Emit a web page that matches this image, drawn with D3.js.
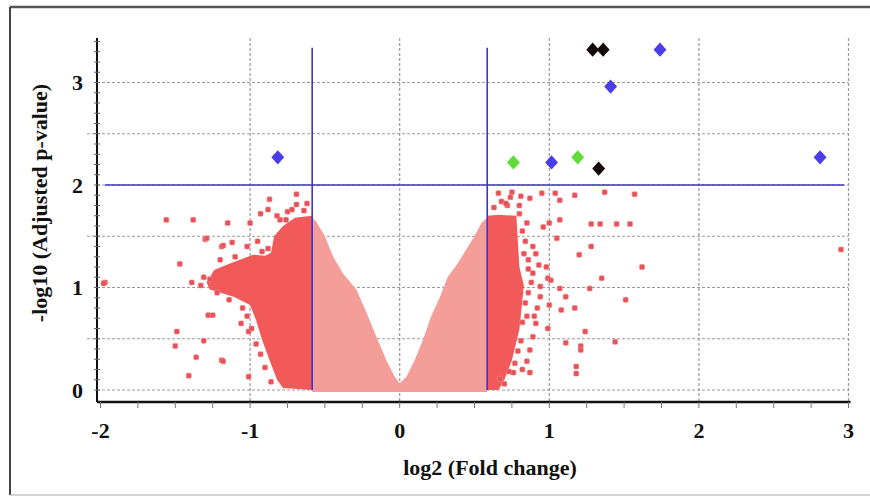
<!DOCTYPE html>
<html>
<head>
<meta charset="utf-8">
<script src="https://cdn.jsdelivr.net/npm/d3@7"></script>
<style>
  body { margin: 0; background: #fff; }
  text { font-family: "Liberation Serif", "Times New Roman", serif; font-weight: bold; fill: #111; }
</style>
</head>
<body>
<svg width="870" height="497"></svg>
<script>
/* global d3 */

// ---- data ----
const xTicks = [-2, -1, 0, 1, 2, 3];
const yTicks = [0, 1, 2, 3];
const foldCut = 0.585;   // log2(1.5)
const pCut = 2;

// non-significant cloud (V shape), outline in data units
const nsCloud = [
  [-0.585, -0.02], [-0.585, 1.68], [-0.556, 1.64], [-0.50, 1.50], [-0.445, 1.30],
  [-0.38, 1.14], [-0.29, 0.98], [-0.22, 0.75], [-0.156, 0.52], [-0.089, 0.29],
  [-0.033, 0.13], [0, 0.065], [0.045, 0.13], [0.10, 0.29], [0.156, 0.49],
  [0.21, 0.72], [0.27, 0.91], [0.32, 1.10], [0.38, 1.22], [0.445, 1.37],
  [0.50, 1.50], [0.546, 1.63], [0.585, 1.68], [0.585, -0.02]
];

// dense down-regulated block (left of cut)
const downCloud = [
  [-0.585, 0.0], [-0.78, 0.02], [-0.82, 0.10], [-0.87, 0.29], [-0.92, 0.49],
  [-0.96, 0.68], [-1.0, 0.83], [-1.11, 0.91], [-1.27, 0.98], [-1.29, 1.05],
  [-1.24, 1.17], [-1.16, 1.22], [-1.05, 1.28], [-0.98, 1.32], [-0.90, 1.31],
  [-0.86, 1.34], [-0.84, 1.50], [-0.78, 1.60], [-0.70, 1.68], [-0.585, 1.70]
];

// dense up-regulated block (right of cut)
const upCloud = [
  [0.585, 0.0], [0.585, 1.70], [0.66, 1.71], [0.78, 1.70], [0.79, 1.45],
  [0.80, 1.20], [0.83, 1.02], [0.80, 0.59], [0.75, 0.29], [0.70, 0.10], [0.66, 0.0]
];

// scattered genes outside the dense blocks [log2FC, -log10 p]
const scatterX = [
  -1.97, -1.98, -1.56, -1.38, -1.30, -1.19, -1.47, -1.39, -1.27, -1.28, -1.25, -1.49,
  -1.50, -1.31, -1.36, -1.19, -1.41, -1.15, -1.00, -1.18, -1.12, -1.02, -0.87, -0.69,
  -0.88, -0.69, -0.80, -0.76, -1.06, -1.01, -1.18, -1.01, -1.29, -0.93, -0.72,
  0.66, 0.68, 0.75, 0.81, 0.87, 0.95, 1.04, 1.07, 1.17, 1.37, 1.57, 1.28, 1.34,
  1.45, 1.54, 1.28, 1.20, 1.62, 1.35, 1.27, 1.51, 1.17, 1.24, 1.21, 1.21, 1.44,
  1.18, 1.18, 2.95, 1.07, 1.00, 1.05, 0.98, 0.99, 1.01, 1.07, 1.11, 1.00, 1.08,
  0.99, 1.11, 0.94, 0.92, 0.91, 0.89, 0.87, 0.85, 0.82, 0.76, 0.67, 0.87, 0.89,
  0.86, 0.89, 0.94, 0.85, 0.96, 0.80, 0.72, 0.74,
  // edge texture around the dense blocks
  0.82, 0.84, 0.83, 0.86, 0.88, 0.86, 0.84, 0.85, 0.82, 0.81, 0.79, 0.77, 0.73,
  0.70, 0.90, 0.93, 0.91, 0.80, 0.71, 0.63,
  -1.33, -1.31, -1.22, -1.14, -1.05, -1.02, -0.99, -0.96, -0.93, -0.90, -0.86,
  -0.88, -0.92, -1.10, -1.20, -0.82, -0.75, -0.64, -0.62, -0.95
];
const scatterY = [
  1.05, 1.04, 1.66, 1.66, 1.47, 1.40, 1.23, 1.05, 1.08, 0.73, 0.73, 0.57,
  0.43, 0.48, 0.32, 0.29, 0.14, 1.63, 1.63, 1.41, 1.44, 1.40, 1.86, 1.91,
  1.76, 1.81, 1.66, 1.66, 0.65, 0.57, 0.28, 0.13, 1.48, 1.72, 1.76,
  1.92, 1.84, 1.93, 1.89, 1.87, 1.92, 1.92, 1.85, 1.90, 1.93, 1.91, 1.62, 1.62,
  1.62, 1.62, 1.40, 1.32, 1.20, 1.09, 0.99, 0.88, 0.80, 0.57, 0.43, 0.39, 0.47,
  0.23, 0.16, 1.37, 1.66, 1.63, 1.48, 1.20, 1.09, 1.07, 0.99, 0.91, 0.83, 0.78,
  0.60, 0.46, 0.91, 0.80, 0.65, 0.52, 0.39, 0.28, 0.20, 0.17, 0.11, 0.17, 1.40,
  1.27, 1.14, 1.01, 1.63, 1.59, 1.72, 1.80, 1.88,
  1.55, 1.45, 1.33, 1.18, 1.05, 0.95, 0.85, 0.72, 0.66, 0.48, 0.38, 0.26, 0.18,
  0.06, 0.72, 1.22, 1.33, 1.80, 1.82, 1.78,
  1.02, 1.10, 0.95, 0.88, 0.80, 0.72, 0.60, 0.45, 0.35, 0.22, 0.08,
  1.38, 1.35, 1.30, 1.27, 1.70, 1.74, 1.75, 1.82, 1.45
];

// significant genes (diamonds)
const sigX = [-0.815, 0.76, 1.015, 1.19, 1.33, 1.29, 1.36, 1.74, 1.41, 2.81];
const sigY = [2.27, 2.22, 2.22, 2.27, 2.16, 3.32, 3.32, 3.32, 2.96, 2.27];
const sigGroup = ['blue', 'green', 'blue', 'green', 'black', 'black', 'black', 'blue', 'blue', 'blue'];

const xTitle = 'log2 (Fold change)';
const yTitle = '-log10 (Adjusted p-value)';

// ---- layout ----
const svg = d3.select('svg');
const x = d3.scaleLinear().domain([-2, 3]).range([100.5, 848.5]);
const y = d3.scaleLinear().domain([-0.117, 3.434]).range([402, 38]);
const axisLeft = 97;
const axisBottom = 402;
const groupColor = { blue: '#4a3ce6', green: '#5fdc38', black: '#140808' };

// frame around the figure
svg.append('line').attr('x1', 10).attr('x2', 870).attr('y1', 7).attr('y2', 7)
  .attr('stroke', '#555').attr('stroke-width', 2.5);
svg.append('line').attr('x1', 10).attr('x2', 10).attr('y1', 7).attr('y2', 495)
  .attr('stroke', '#444').attr('stroke-width', 2);
svg.append('line').attr('x1', 10).attr('x2', 870).attr('y1', 495).attr('y2', 495)
  .attr('stroke', '#aaa').attr('stroke-width', 1);

// dashed grid
const grid = svg.append('g').attr('stroke', '#9a9a9a').attr('stroke-width', 1.2)
  .attr('stroke-dasharray', '3,2');
grid.selectAll('.hg')
  .data(d3.range(0, 3.01, 0.5))
  .enter().append('line')
    .attr('x1', d => (d % 1 === 0 ? axisLeft : axisLeft - 10))
    .attr('x2', x(3))
    .attr('y1', d => y(d)).attr('y2', d => y(d));
grid.selectAll('.vg')
  .data(xTicks.filter(d => d > -2))
  .enter().append('line')
    .attr('x1', d => x(d)).attr('x2', d => x(d))
    .attr('y1', y(3.434)).attr('y2', axisBottom);

// clouds
const line = d3.line().x(d => x(d[0])).y(d => y(d[1]));
svg.append('path').attr('d', line(nsCloud) + 'Z').attr('fill', '#f59d98');
svg.append('path').attr('d', line(downCloud) + 'Z').attr('fill', '#f25a5a');
svg.append('path').attr('d', line(upCloud) + 'Z').attr('fill', '#f25a5a');

// scattered points
svg.append('g').selectAll('rect')
  .data(scatterX.map((d, i) => [d, scatterY[i]]))
  .enter().append('rect')
    .attr('x', d => x(d[0]) - 2.5)
    .attr('y', d => y(d[1]) - 2.5)
    .attr('width', 5)
    .attr('height', 5)
    .attr('rx', 1.2)
    .attr('fill', '#e8505a')
    .attr('stroke', '#f58a8a')
    .attr('stroke-width', 0.6);

// threshold lines
const cut = svg.append('g').attr('stroke', '#3b34d0').attr('stroke-width', 1.6);
cut.append('line').attr('x1', x(-1.97)).attr('x2', x(2.97))
  .attr('y1', y(pCut)).attr('y2', y(pCut));
[-foldCut, foldCut].forEach((f) => {
  cut.append('line').attr('x1', x(f)).attr('x2', x(f))
    .attr('y1', y(3.34)).attr('y2', y(0));
});

// significant diamonds
const diamond = d3.symbol().type(d3.symbolSquare).size(92);
svg.append('g').selectAll('path')
  .data(sigX.map((d, i) => ({ x: d, y: sigY[i], g: sigGroup[i] })))
  .enter().append('path')
    .attr('d', diamond)
    .attr('transform', d => `translate(${x(d.x)},${y(d.y)}) scale(0.95,1.05) rotate(45)`)
    .attr('fill', d => groupColor[d.g]);

// axes
const ax = svg.append('g').attr('stroke', '#111');
ax.append('line').attr('x1', axisLeft).attr('x2', axisLeft)
  .attr('y1', y(3.434)).attr('y2', axisBottom).attr('stroke-width', 2);
ax.append('line').attr('x1', axisLeft).attr('x2', x(3) + 2)
  .attr('y1', axisBottom).attr('y2', axisBottom).attr('stroke-width', 2.6);
ax.selectAll('.ym')
  .data(d3.range(0, 3.41, 0.1))
  .enter().append('line')
    .attr('x1', axisLeft - 3).attr('x2', axisLeft + 3)
    .attr('y1', d => y(d)).attr('y2', d => y(d))
    .attr('stroke', '#666').attr('stroke-width', 1);
ax.selectAll('.xm')
  .data(d3.range(-2, 3.01, 0.25))
  .enter().append('line')
    .attr('x1', d => x(d)).attr('x2', d => x(d))
    .attr('y1', axisBottom).attr('y2', axisBottom + 6)
    .attr('stroke', '#777').attr('stroke-width', 1);

// tick labels
svg.selectAll('.xl')
  .data(xTicks)
  .enter().append('text')
    .attr('x', d => x(d))
    .attr('y', 438)
    .attr('text-anchor', 'middle')
    .style('font-size', '22px')
    .text(d => (d < 0 ? `-${-d}` : d));
svg.selectAll('.yl')
  .data(yTicks)
  .enter().append('text')
    .attr('x', 83)
    .attr('y', d => y(d))
    .attr('dy', '.35em')
    .attr('text-anchor', 'end')
    .style('font-size', '22px')
    .text(d => d);

// titles
svg.append('text')
  .attr('x', 490).attr('y', 475)
  .attr('text-anchor', 'middle')
  .style('font-size', '22px')
  .text(xTitle);
svg.append('text')
  .attr('transform', 'translate(47,203) rotate(-90)')
  .attr('text-anchor', 'middle')
  .style('font-size', '22px')
  .text(yTitle);
</script>
</body>
</html>
